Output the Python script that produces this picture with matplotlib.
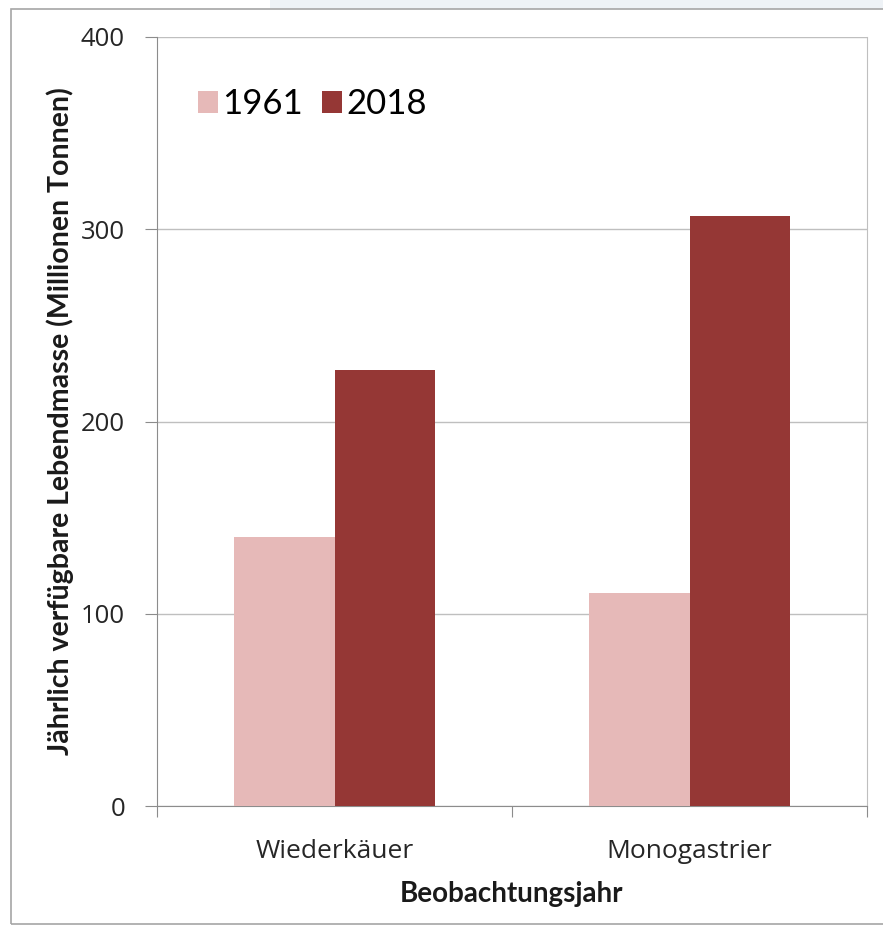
import matplotlib
matplotlib.use("Agg")
import matplotlib.pyplot as plt
from matplotlib.patches import Rectangle

plt.rcParams['font.family'] = ['Lato', 'DejaVu Sans']

# data
categories = ['Wiederkäuer', 'Monogastrier']
years = ['1961', '2018']
values_1961 = [140, 111]
values_2018 = [227, 307]
yticks = [0, 100, 200, 300, 400]

col_1961 = '#e6b9b8'
col_2018 = '#953735'
grid_col = '#bfbfbf'
tick_font = ['Open Sans', 'DejaVu Sans']

fig = plt.figure(figsize=(8.83, 9.27), dpi=100)

# outer frame + light band at the top
fig.patches.append(Rectangle((270 / 883, 1 - 9 / 927), 1, 9 / 927, transform=fig.transFigure,
                             facecolor='#eef2f6', edgecolor='none', zorder=0))
fig.patches.append(Rectangle((11 / 883, 3 / 927), 1, 1 - 12 / 927, transform=fig.transFigure,
                             facecolor='none', edgecolor='#a6a6a6', linewidth=1.2, zorder=1))

ax = fig.add_axes([157 / 883, 1 - 806 / 927, (867 - 157) / 883, (806 - 37) / 927])

x = range(len(categories))
w = 0.284
ax.bar([i - w / 2 for i in x], values_1961, width=w, color=col_1961, label=years[0], zorder=3)
ax.bar([i + w / 2 for i in x], values_2018, width=w, color=col_2018, label=years[1], zorder=3)

ax.set_xlim(-0.5, 1.5)
ax.set_ylim(0, 400)
ax.set_yticks(yticks)
ax.set_yticklabels([str(t) for t in yticks], fontsize=18.5, color='#262626', family=tick_font)
ax.yaxis.grid(True, color=grid_col, linewidth=1)
ax.set_axisbelow(True)

# category ticks sit between the groups
ax.set_xticks([-0.5, 0.5, 1.5])
ax.set_xticklabels([])
ax.set_xticks([0, 1], minor=True)
ax.set_xticklabels(categories, minor=True, fontsize=19, color='#262626', family=tick_font)
ax.tick_params(axis='x', which='minor', length=0, pad=24)
ax.tick_params(axis='x', which='major', length=8, color='#8c8c8c')
ax.tick_params(axis='y', length=9, color='#8c8c8c', pad=14)

for s in ['left', 'bottom']:
    ax.spines[s].set_color('#8c8c8c')
ax.spines['top'].set_visible(False)
ax.spines['right'].set_color(grid_col)

ax.set_ylabel('Jährlich verfügbare Lebendmasse (Millionen Tonnen)', fontsize=20.5,
              fontweight='bold', labelpad=5, color='#1a1a1a')
ax.set_xlabel('Beobachtungsjahr', fontsize=20, fontweight='bold', labelpad=12, color='#1a1a1a')

ax.legend(loc='upper left', bbox_to_anchor=(0.014, 0.974), ncol=2, frameon=False,
          fontsize=25, handlelength=0.57, handleheight=0.57, handletextpad=0.12,
          columnspacing=0.55)

fig.savefig('out.png', dpi=100)
